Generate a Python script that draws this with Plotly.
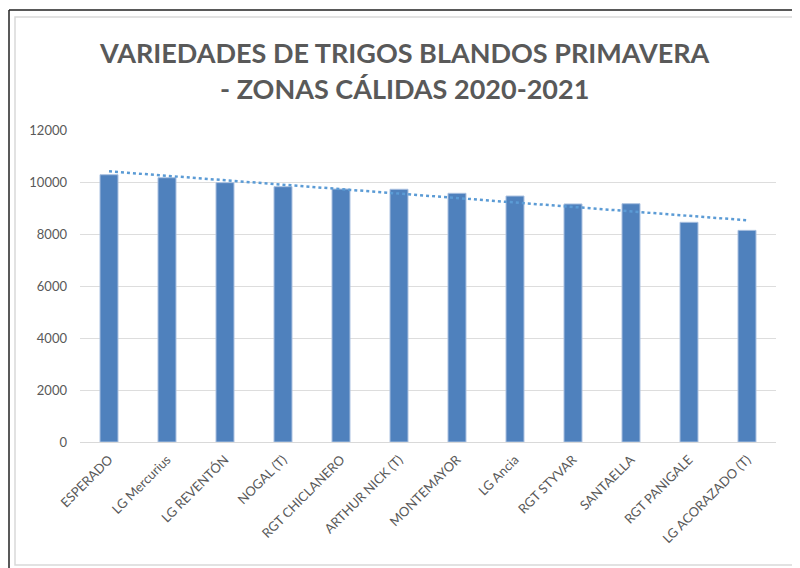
import numpy as np
import plotly.graph_objects as go

categories = ["ESPERADO", "LG Mercurius", "LG REVENTÓN", "NOGAL (T)", "RGT CHICLANERO",
              "ARTHUR NICK (T)", "MONTEMAYOR", "LG Ancia", "RGT STYVAR", "SANTAELLA",
              "RGT PANIGALE", "LG ACORAZADO (T)"]
values = [10280, 10165, 9975, 9820, 9730, 9720, 9565, 9460, 9155, 9165, 8450, 8140]
y_ticks = [0, 2000, 4000, 6000, 8000, 10000, 12000]
y_tick_labels = ["0", "2000", "4000", "6000", "8000", "10000", "12000"]
title_lines = ["VARIEDADES DE TRIGOS BLANDOS PRIMAVERA", "- ZONAS CÁLIDAS 2020-2021"]

# page body has an 8px margin, so the figure origin sits at page (8, 8)
OFF = 8
W, H = 800 - OFF, 568 - OFF
L, T = 80 - OFF, 130 - OFF
R = W - (776 - OFF)
B = H - (442 - OFF)
pw, ph = W - L - R, H - T - B

def px(x):
    return (x - OFF - L) / pw

def py(y):
    return (H - B - (y - OFF)) / ph

idx = np.arange(len(values))
slope, intercept = np.polyfit(idx, values, 1)
trend = list(slope * idx + intercept)

fig = go.Figure()
fig.add_trace(go.Bar(x=categories, y=values, width=0.31,
                     marker=dict(color="#4F81BD", line=dict(color="#A9C0E0", width=1)),
                     showlegend=False))
fig.add_trace(go.Scatter(x=categories, y=trend, mode="lines",
                         line=dict(color="#5B9BD5", width=2.5, dash="dot"),
                         showlegend=False))

shapes = [
    dict(type="rect", xref="paper", yref="paper", x0=px(15), x1=px(793), y0=py(565), y1=py(17),
         line=dict(color="#D9D9D9", width=1.5), layer="below"),
    dict(type="line", xref="paper", yref="paper", x0=px(9), x1=px(9), y0=py(600), y1=py(10),
         line=dict(color="#222222", width=1.5)),
    dict(type="line", xref="paper", yref="paper", x0=px(9), x1=px(820), y0=py(10), y1=py(10),
         line=dict(color="#222222", width=1.5)),
]

annotations = []
for line_text, cy in zip(title_lines, [52, 88.5]):
    annotations.append(dict(text="<b>" + line_text + "</b>", xref="paper", yref="paper",
                            x=px(404), y=py(cy), xanchor="center", yanchor="middle",
                            showarrow=False,
                            font=dict(size=27, color="#595959", family="Lato, sans-serif")))

fig.update_layout(
    width=W, height=H,
    margin=dict(l=L, r=R, t=T, b=B, autoexpand=False),
    paper_bgcolor="white", plot_bgcolor="white",
    font=dict(family="Lato, 'Open Sans', sans-serif", color="#595959"),
    xaxis=dict(showgrid=False, showline=True, linecolor="#D9D9D9", linewidth=1, automargin=False,
               tickangle=-45, tickfont=dict(size=13, color="#595959"), ticks="",
               ticklabelstandoff=4),
    yaxis=dict(range=[0, 12000], tickvals=y_ticks, ticktext=y_tick_labels, showgrid=True,
               gridcolor="#DDDDDD", automargin=False,
               gridwidth=1, zeroline=False, showline=False, ticks="",
               tickfont=dict(size=13, color="#595959"), ticklabelstandoff=12),
    shapes=shapes,
    annotations=annotations,
    bargap=0.6,
)

fig.write_html("out.html")
